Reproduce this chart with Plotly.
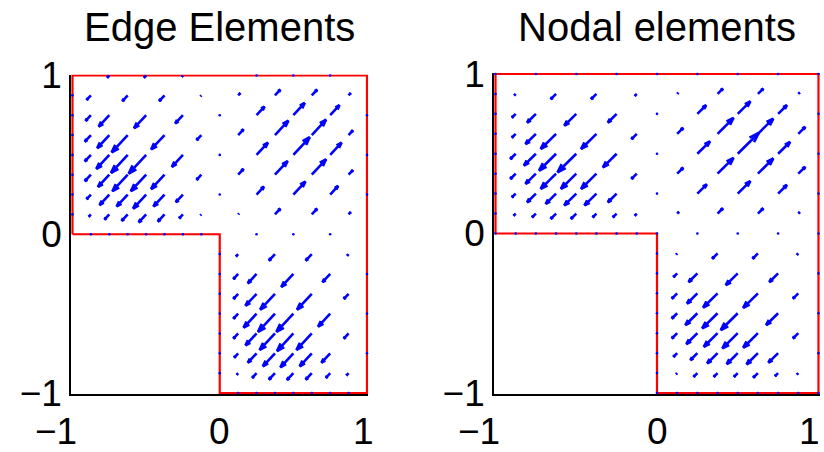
import plotly.graph_objects as go

# ---------------- data ----------------
tick_vals = [-1, 0, 1]
tick_text = ["\u22121", "0", "1"]
titles = ["Edge Elements", "Nodal elements"]

# L-shaped domain boundary
boundary_x = [-1, -1, 1, 1, 0, 0, -1]
boundary_y = [0, 1, 1, -1, -1, 0, 0]

# Edge-element field: arrow tails and signed amplitude (vector = amp*(1,1))
edge_x = [
    -0.75, -0.5, -0.25,
    -0.875, -0.625, -0.375, -0.125, 0.125, 0.375, 0.625, 0.875,
    -0.875, -0.75, -0.5, -0.25, 0.25, 0.5, 0.75,
    -0.875, -0.75, -0.625, -0.375, -0.125, 0.125, 0.375, 0.625, 0.875,
    -0.875, -0.75, -0.625, -0.5, -0.25, 0.25, 0.5, 0.75,
    -0.875, -0.75, -0.625, -0.5, -0.375, -0.125, 0.125, 0.375, 0.625, 0.875,
    -0.875, -0.75, -0.625, -0.5, -0.375, -0.25, 0.25, 0.5, 0.75,
    -0.875, -0.75, -0.625, -0.5, -0.375, -0.25, -0.125, 0.125, 0.375, 0.625, 0.875,
    0.125, 0.375, 0.625, 0.875,
    0.125, 0.25, 0.5, 0.75,
    0.125, 0.25, 0.375, 0.625, 0.875,
    0.125, 0.25, 0.375, 0.5, 0.75,
    0.125, 0.25, 0.375, 0.5, 0.625, 0.875,
    0.125, 0.25, 0.375, 0.5, 0.625, 0.75,
    0.125, 0.25, 0.375, 0.5, 0.625, 0.75, 0.875,
]
edge_y = [
    1, 1, 1,
    0.875, 0.875, 0.875, 0.875, 0.875, 0.875, 0.875, 0.875,
    0.75, 0.75, 0.75, 0.75, 0.75, 0.75, 0.75,
    0.625, 0.625, 0.625, 0.625, 0.625, 0.625, 0.625, 0.625, 0.625,
    0.5, 0.5, 0.5, 0.5, 0.5, 0.5, 0.5, 0.5,
    0.375, 0.375, 0.375, 0.375, 0.375, 0.375, 0.375, 0.375, 0.375, 0.375,
    0.25, 0.25, 0.25, 0.25, 0.25, 0.25, 0.25, 0.25, 0.25,
    0.125, 0.125, 0.125, 0.125, 0.125, 0.125, 0.125, 0.125, 0.125, 0.125, 0.125,
    -0.125, -0.125, -0.125, -0.125,
    -0.25, -0.25, -0.25, -0.25,
    -0.375, -0.375, -0.375, -0.375, -0.375,
    -0.5, -0.5, -0.5, -0.5, -0.5,
    -0.625, -0.625, -0.625, -0.625, -0.625, -0.625,
    -0.75, -0.75, -0.75, -0.75, -0.75, -0.75,
    -0.875, -0.875, -0.875, -0.875, -0.875, -0.875, -0.875,
]
edge_amp = [
    -0.014, -0.014, -0.007,
    -0.029, -0.036, -0.036, -0.005, 0.014, 0.036, 0.036, 0.014,
    -0.036, -0.072, -0.082, -0.052, 0.054, 0.077, 0.063,
    -0.041, -0.082, -0.109, -0.091, -0.032, 0.036, 0.091, 0.097, 0.029,
    -0.041, -0.088, -0.113, -0.118, -0.075, 0.077, 0.111, 0.077,
    -0.041, -0.077, -0.104, -0.104, -0.091, -0.032, 0.036, 0.086, 0.097, 0.029,
    -0.029, -0.066, -0.075, -0.088, -0.075, -0.048, 0.050, 0.082, 0.054,
    -0.014, -0.032, -0.041, -0.050, -0.045, -0.025, -0.005, 0.005, 0.036, 0.036, 0.014,
    -0.014, -0.041, -0.041, -0.009,
    -0.032, -0.059, -0.082, -0.052,
    -0.032, -0.075, -0.100, -0.100, -0.032,
    -0.032, -0.088, -0.115, -0.115, -0.082,
    -0.032, -0.075, -0.104, -0.111, -0.104, -0.032,
    -0.027, -0.059, -0.082, -0.088, -0.082, -0.059,
    -0.009, -0.029, -0.041, -0.043, -0.041, -0.029, -0.014,
]
# zero-length vectors (boundary nodes) of the edge-element plot
edge_dot_x = [0, 0, 0,
              -0.875, -0.75, -0.625, -0.5, -0.375, -0.25, -0.125, 0.25, 0.5, 0.75,
              0, 0, 0, 0, 0, 0, 0,
              0.125, 0.25, 0.375, 0.5, 0.625, 0.75, 0.875,
              0.25, 0.5, 0.75,
              1, 1, 1, 1, 1, 1,
              -1, -1, -1, -1, -1, -1, -1]
edge_dot_y = [0.75, 0.5, 0.25,
              0, 0, 0, 0, 0, 0, 0, 0, 0, 0,
              -0.125, -0.25, -0.375, -0.5, -0.625, -0.75, -0.875,
              -1, -1, -1, -1, -1, -1, -1,
              1, 1, 1,
              0.75, 0.5, 0.25, -0.25, -0.5, -0.75,
              0.875, 0.75, 0.625, 0.5, 0.375, 0.25, 0.125]

# Nodal-element field
nodal_x = [
    -0.875, -0.625, -0.375, -0.125, 0.125, 0.375, 0.625, 0.875,
    -0.875, -0.75, -0.5, -0.25, 0.25, 0.5, 0.75,
    -0.875, -0.75, -0.625, -0.375, -0.125, 0.125, 0.375, 0.625, 0.875,
    -0.875, -0.75, -0.625, -0.5, -0.25, 0.25, 0.5, 0.75,
    -0.875, -0.75, -0.625, -0.5, -0.375, -0.125, 0.125, 0.375, 0.625, 0.875,
    -0.875, -0.75, -0.625, -0.5, -0.375, -0.25, 0.25, 0.5, 0.75,
    -0.875, -0.75, -0.625, -0.5, -0.375, -0.25, -0.125, 0.125, 0.375, 0.625, 0.875,
    0.125, 0.375, 0.625, 0.875,
    0.125, 0.25, 0.5, 0.75,
    0.125, 0.25, 0.375, 0.625, 0.875,
    0.125, 0.25, 0.375, 0.5, 0.75,
    0.125, 0.25, 0.375, 0.5, 0.625, 0.875,
    0.125, 0.25, 0.375, 0.5, 0.625, 0.75,
    0.125, 0.25, 0.375, 0.5, 0.625, 0.75, 0.875,
]
nodal_y = [
    0.875, 0.875, 0.875, 0.875, 0.875, 0.875, 0.875, 0.875,
    0.75, 0.75, 0.75, 0.75, 0.75, 0.75, 0.75,
    0.625, 0.625, 0.625, 0.625, 0.625, 0.625, 0.625, 0.625, 0.625,
    0.5, 0.5, 0.5, 0.5, 0.5, 0.5, 0.5, 0.5,
    0.375, 0.375, 0.375, 0.375, 0.375, 0.375, 0.375, 0.375, 0.375, 0.375,
    0.25, 0.25, 0.25, 0.25, 0.25, 0.25, 0.25, 0.25, 0.25,
    0.125, 0.125, 0.125, 0.125, 0.125, 0.125, 0.125, 0.125, 0.125, 0.125, 0.125,
    -0.125, -0.125, -0.125, -0.125,
    -0.25, -0.25, -0.25, -0.25,
    -0.375, -0.375, -0.375, -0.375, -0.375,
    -0.5, -0.5, -0.5, -0.5, -0.5,
    -0.625, -0.625, -0.625, -0.625, -0.625, -0.625,
    -0.75, -0.75, -0.75, -0.75, -0.75, -0.75,
    -0.875, -0.875, -0.875, -0.875, -0.875, -0.875, -0.875,
]
nodal_amp = [
    -0.008, -0.033, -0.033, -0.012, 0.006, 0.033, 0.033, 0.008,
    -0.023, -0.054, -0.074, -0.054, 0.054, 0.078, 0.054,
    -0.023, -0.064, -0.095, -0.095, -0.033, 0.037, 0.099, 0.095, 0.043,
    -0.033, -0.074, -0.105, -0.116, -0.085, 0.078, 0.130, 0.074,
    -0.033, -0.064, -0.095, -0.095, -0.095, -0.033, 0.037, 0.099, 0.095, 0.043,
    -0.023, -0.054, -0.064, -0.074, -0.074, -0.054, 0.058, 0.078, 0.054,
    -0.012, -0.023, -0.033, -0.033, -0.023, -0.023, -0.012, 0.010, 0.033, 0.033, 0.008,
    -0.006, -0.033, -0.033, -0.008,
    -0.023, -0.054, -0.074, -0.054,
    -0.033, -0.064, -0.089, -0.091, -0.033,
    -0.033, -0.074, -0.095, -0.105, -0.074,
    -0.033, -0.068, -0.085, -0.095, -0.091, -0.033,
    -0.023, -0.043, -0.064, -0.068, -0.070, -0.060,
    -0.006, -0.023, -0.023, -0.023, -0.029, -0.019, -0.008,
]
nodal_dot_x = [-1, -1, -1, -1, -1, -1, -1,
               -1, -0.75, -0.5, -0.25, 0, 0.25, 0.5, 0.75, 1,
               -1, -0.875, -0.75, -0.625, -0.5, -0.375, -0.25, -0.125, 0,
               0, 0, 0,
               0.25, 0.5, 0.75,
               0, 0, 0, 0, 0, 0, 0, 0,
               0.125, 0.25, 0.375, 0.5, 0.625, 0.75, 0.875, 1,
               1, 1, 1, 1, 1, 1, 1]
nodal_dot_y = [0.875, 0.75, 0.625, 0.5, 0.375, 0.25, 0.125,
               1, 1, 1, 1, 1, 1, 1, 1, 1,
               0, 0, 0, 0, 0, 0, 0, 0, 0,
               0.75, 0.5, 0.25,
               0, 0, 0,
               -0.125, -0.25, -0.375, -0.5, -0.625, -0.75, -0.875, -1,
               -1, -1, -1, -1, -1, -1, -1, -1,
               0.75, 0.5, 0.25, 0, -0.25, -0.5, -0.75]

# ---------------- styling ----------------
FONT = "Liberation Sans, Arial, Helvetica, sans-serif"
BLUE = "#0000ff"
RED = "#ff0000"
ALPHA, BETA = 0.33, 0.33  # MATLAB-style arrow head


def quiver_path(xs, ys, amps):
    px, py = [], []
    for x, y, a in zip(xs, ys, amps):
        u = v = a
        tx, ty = x + u, y + v
        px += [x, tx, None]
        py += [y, ty, None]
        h1x = tx - ALPHA * (u + BETA * v)
        h1y = ty - ALPHA * (v - BETA * u)
        h2x = tx - ALPHA * (u - BETA * v)
        h2y = ty - ALPHA * (v + BETA * u)
        px += [h1x, tx, h2x, None]
        py += [h1y, ty, h2y, None]
    return px, py


fig = go.Figure()

panels = [
    dict(xa="x", ya="y", xs=edge_x, ys=edge_y, amps=edge_amp, dx=edge_dot_x, dy=edge_dot_y),
    dict(xa="x2", ya="y2", xs=nodal_x, ys=nodal_y, amps=nodal_amp, dx=nodal_dot_x, dy=nodal_dot_y),
]
for p in panels:
    fig.add_trace(go.Scatter(x=boundary_x, y=boundary_y, mode="lines",
                             line=dict(color=RED, width=2.2), xaxis=p["xa"], yaxis=p["ya"],
                             hoverinfo="skip", showlegend=False))
    ax, ay = quiver_path(p["xs"], p["ys"], p["amps"])
    fig.add_trace(go.Scatter(x=ax, y=ay, mode="lines",
                             line=dict(color=BLUE, width=2.6), xaxis=p["xa"], yaxis=p["ya"],
                             hoverinfo="skip", showlegend=False))
    fig.add_trace(go.Scatter(x=p["dx"], y=p["dy"], mode="markers",
                             marker=dict(color=BLUE, size=2.6), xaxis=p["xa"], yaxis=p["ya"],
                             hoverinfo="skip", showlegend=False, cliponaxis=False))

W, H = 824, 452
def xdom(l, r):
    return [l / W, r / W]
def ydom(t, b):
    return [(H - b) / H, (H - t) / H]

common_x = dict(range=[-1.01, 1.01], showgrid=False, zeroline=False, showline=True,
                linecolor="black", linewidth=1.5, ticks="", showticklabels=False,
                fixedrange=True, automargin=False)
common_y = dict(range=[-1.006, 1.006], showgrid=False, zeroline=False, showline=True,
                linecolor="black", linewidth=1.5, ticks="", tickvals=tick_vals,
                ticktext=tick_text, tickfont=dict(family=FONT, size=37, color="black"),
                fixedrange=True, automargin=False)

fig.update_layout(
    width=W, height=H, margin=dict(l=0, r=0, t=0, b=0, autoexpand=False),
    paper_bgcolor="white", plot_bgcolor="white", showlegend=False,
    xaxis=dict(domain=xdom(71.03, 368.47), anchor="y", **common_x),
    yaxis=dict(domain=ydom(74.55, 393.95), anchor="x", **common_y),
    xaxis2=dict(domain=xdom(493.9, 820.1), anchor="y2", **common_x),
    yaxis2=dict(domain=ydom(73.04, 393.96), anchor="x2", **common_y),
)

ann = []
for i, (xa, title) in enumerate([("x", titles[0]), ("x2", titles[1])]):
    ann.append(dict(text=title, xref=xa, x=0, yref="paper", y=(H - 27.5) / H,
                    xanchor="center", yanchor="middle", showarrow=False,
                    font=dict(family=FONT, size=40, color="black")))
    for v, t in zip(tick_vals, tick_text):
        if v == -1:
            anc, sh = "right", 6
        elif v == 1:
            anc, sh = "right", (9 if i == 0 else 4)
        else:
            anc, sh = "center", 0
        ann.append(dict(text=t, xref=xa, x=v, yref="paper", y=(H - 431.5) / H,
                        xanchor=anc, xshift=sh, yanchor="middle", showarrow=False,
                        font=dict(family=FONT, size=37, color="black")))
fig.update_layout(annotations=ann)

fig.write_html("out.html")
